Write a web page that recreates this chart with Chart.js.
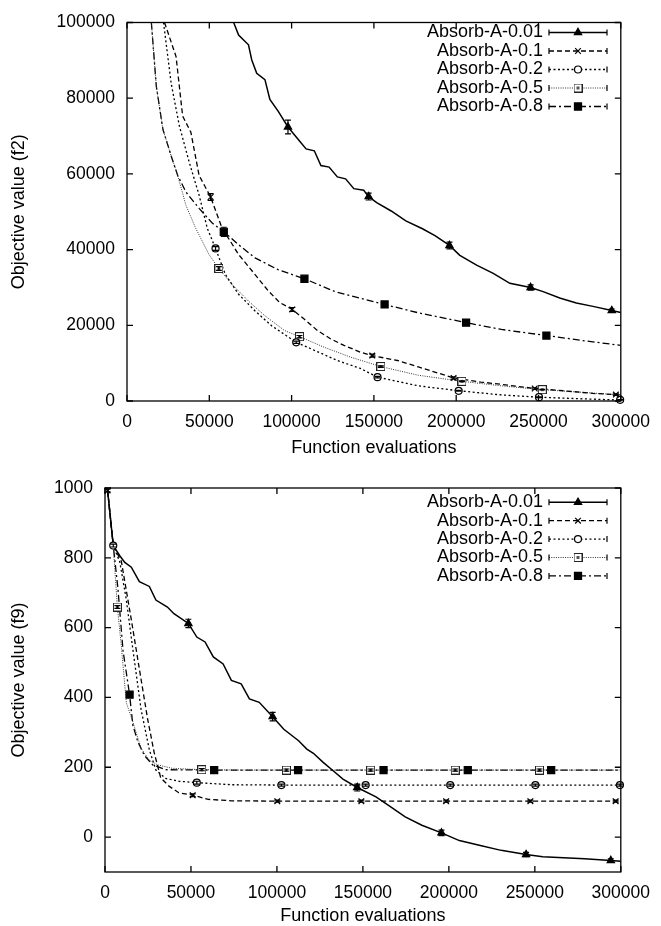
<!DOCTYPE html>
<html><head><meta charset="utf-8">
<script src="https://cdn.jsdelivr.net/npm/chart.js@4"></script>
<style>
html,body{margin:0;padding:0;background:#fff;}
body{width:661px;height:926px;position:relative;overflow:hidden;}
#c1{position:absolute;left:0;top:0;}
#c2{position:absolute;left:0;top:460px;}
</style></head><body>
<canvas id="c1" width="661" height="460"></canvas>
<canvas id="c2" width="661" height="466"></canvas>
<script>
// ---------- labels ----------
const seriesNames = ['Absorb-A-0.01','Absorb-A-0.1','Absorb-A-0.2','Absorb-A-0.5','Absorb-A-0.8'];
const xTitle = 'Function evaluations';
const f2Title = 'Objective value (f2)';
const f9Title = 'Objective value (f9)';
const xTicks = [0,50000,100000,150000,200000,250000,300000];
const f2Ticks = [0,20000,40000,60000,80000,100000];
const f9Ticks = [0,200,400,600,800,1000];

// ---------- f2 curves ----------
const f2_x_001 = [64800,67800,73800,75800,78800,83800,86800,91800,97800,103800,108800,113800,117800,122800,127800,132800,137800,143800,146800,151700,160500,169400,179500,187100,195900,202200,212400,222500,232600,245200,252800,262900,273000,283100,294500,300000];
const f2_y_001 = [100000,96700,94100,90100,86600,84900,79700,76600,72400,69200,66600,66100,62200,61800,59200,58700,56100,55700,54000,52400,50200,47600,45500,43700,41100,38500,35900,33700,31100,30000,28900,27200,25900,25000,23900,23400];
const f2_x_01 = [22800,29800,33800,38800,43800,50800,57800,62800,67800,77800,85800,92800,100400,107800,115800,123800,131800,141800,149000,164300,177000,198400,214900,227500,247700,265400,283100,297000,300000];
const f2_y_01 = [100000,91000,75300,71000,59600,53900,45600,42200,38700,33400,29100,26000,24200,21600,18600,16400,14700,12900,12000,10700,9000,6100,5000,4400,3300,2700,2000,1700,1600];
const f2_x_02 = [22200,26800,31800,37800,43800,48800,53800,59800,67800,77800,87800,102800,113800,127800,141800,152200,177000,201500,227500,250300,275000,300000];
const f2_y_02 = [100000,84000,72700,63100,54400,45600,40300,33400,28200,23800,19900,15500,13400,10700,8600,6300,4000,2700,1600,1000,600,250];
const f2_x_05 = [14800,17800,21800,26800,30800,35800,41800,49800,55800,63800,73800,83800,95800,104800,119800,135800,154200,177000,203500,227500,252300,300000];
const f2_y_05 = [100000,83200,71800,64800,59600,51700,45600,38700,35000,30800,26400,22500,18600,17000,14200,11600,9100,6800,5200,4000,3000,1600];
const f2_x_08 = [14800,17800,21800,26800,30800,35800,43800,51800,58800,67800,77800,91800,107800,126400,156500,177000,206000,227500,254800,278100,300000];
const f2_y_08 = [100000,83200,71800,64800,59600,55200,50900,47000,44700,41300,37800,34700,32300,28900,25500,23300,20700,18900,17300,15900,14700];

// ---------- f2 error-bar points ----------
const f2_mx_001 = [97800,146800,195900,245200,294500];
const f2_my_001 = [72400,54000,41100,30000,23900];
const f2_me_001 = [1800,900,900,700,400];
const f2_mx_01 = [50800,100400,149000,198400,247700,297000];
const f2_my_01 = [53900,24200,12000,6100,3300,1700];
const f2_me_01 = [900,500,400,300,200,200];
const f2_mx_02 = [53800,102800,152200,201500,250300,299600];
const f2_my_02 = [40300,15500,6300,2700,1000,300];
const f2_me_02 = [500,300,200,100,100,100];
const f2_mx_05 = [55800,104800,154200,203500,252300];
const f2_my_05 = [35000,17000,9100,5200,3000];
const f2_me_05 = [500,300,200,100,100];
const f2_mx_08 = [58800,107800,156500,206000,254800];
const f2_my_08 = [44700,32300,25500,20700,17300];
const f2_me_08 = [1200,600,400,300,200];

// ---------- f9 curves ----------
const f9_x_001 = [1500,4800,8600,11500,15300,20000,25800,29600,36300,40100,48500,53400,58200,63000,68700,73500,79200,84000,89700,97500,104000,112600,117400,121200,126900,132700,138400,146700,157600,164900,174600,184300,195700,206100,218300,230400,244900,254600,278900,294200,300000];
const f9_y_001 = [995,835,806,787,773,732,718,679,659,640,612,573,559,516,496,449,439,396,386,345,309,276,252,240,214,190,166,142,115,91,58,34,12,-10,-24,-38,-50,-56,-62,-67,-69];
const f9_x_01 = [1500,4800,9500,15300,20000,24800,28600,32400,37200,42900,51100,60100,73500,100000,300000];
const f9_y_01 = [993,835,790,623,481,338,242,170,146,127,120,108,104,103,103];
const f9_x_02 = [1500,4800,8600,12400,16200,21000,25800,29600,35300,42900,53500,73500,102700,300000];
const f9_y_02 = [993,835,788,680,538,365,250,192,168,160,156,150,149,149];
const f9_x_05 = [1500,4800,7200,9500,12400,16200,21000,25800,30500,39100,56000,80000,300000];
const f9_y_05 = [993,835,659,547,385,330,254,220,207,197,193,192,192];
const f9_x_08 = [1500,4800,7500,10500,14300,16200,19100,22900,27700,35300,63400,300000];
const f9_y_08 = [993,835,713,534,408,321,273,234,207,193,192,192];

// ---------- f9 error-bar points ----------
const f9_mx_001 = [48500,97500,146700,195700,244900,294200];
const f9_my_001 = [612,345,142,12,-50,-67];
const f9_me_001 = [12,12,10,8,6,5];
const f9_mx_01 = [1500,51000,100200,149100,198400,247400,297000];
const f9_my_01 = [993,120,103,103,103,103,103];
const f9_me_01 = [4,4,3,3,3,3,3];
const f9_mx_02 = [4800,53400,102600,151600,200800,250300,299500];
const f9_my_02 = [835,156,149,149,149,149,149];
const f9_me_02 = [4,4,3,3,3,3,3];
const f9_mx_05 = [7200,56300,105500,154500,203700,252700];
const f9_my_05 = [659,193,192,192,192,192];
const f9_me_05 = [4,3,3,3,3,3];
const f9_mx_08 = [14300,63500,112300,162000,211000,259500];
const f9_my_08 = [408,192,192,192,192,192];
const f9_me_08 = [5,3,3,3,3,3];

// ---------- styles ----------
const FONT = '"Liberation Sans", Arial, Helvetica, sans-serif';
Chart.defaults.font.family = FONT;
Chart.defaults.color = '#000';

const boxDot = document.createElement('canvas');
boxDot.width = 9; boxDot.height = 9;
(function(){ const b = boxDot.getContext('2d'); b.fillStyle='#fff'; b.fillRect(0,0,9,9); b.strokeStyle='#222'; b.lineWidth=1; b.strokeRect(0.5,0.5,8,8); b.fillStyle='#555'; b.fillRect(3,3,3,3); })();

const STY = [
  {dash:[],          width:1.5, color:'#000', point:'triangle', fill:'#000', radius:4.2},
  {dash:[5,3],       width:1.3, color:'#000', point:'crossRot', fill:'#000', radius:4},
  {dash:[2,2.5],     width:1.3, color:'#000', point:'circle',   fill:'#fff', radius:3.5},
  {dash:[1,1.3],     width:1.0, color:'#333', point:boxDot,     fill:'#fff', radius:4.5},
  {dash:[7,3,2,3],   width:1.3, color:'#000', point:'rect',     fill:'#000', radius:5}
];

function pts(xs, ys){ return xs.map((x,i)=>({x:x, y:ys[i]})); }

function buildDatasets(lines, marks){
  const ds = [];
  lines.forEach((L,i)=>{
    const s = STY[i];
    ds.push({label:seriesNames[i], data:pts(L[0],L[1]), borderColor:s.color, borderWidth:s.width,
      borderDash:s.dash, pointRadius:0, pointHoverRadius:0, tension:0, fill:false, order:2});
  });
  marks.forEach((M,i)=>{
    const s = STY[i];
    ds.push({label:seriesNames[i]+' points', data:pts(M[0],M[1]), errs:M[2], showLine:false,
      pointStyle:s.point, pointRadius:s.radius, pointHoverRadius:s.radius,
      pointBackgroundColor:s.fill, pointBorderColor:s.color, pointBorderWidth:1.2, clip:false, order:1});
  });
  return ds;
}

const errorBarPlugin = {
  id:'errorBars',
  afterDatasetsDraw(chart){
    const ctx = chart.ctx, ys = chart.scales.y;
    ctx.save();
    ctx.strokeStyle = '#000'; ctx.lineWidth = 1.2; ctx.setLineDash([]);
    chart.data.datasets.forEach((d,di)=>{
      if (!d.errs) return;
      const meta = chart.getDatasetMeta(di);
      d.data.forEach((p,j)=>{
        const e = d.errs[j]; if (!e) return;
        const px = meta.data[j].x;
        const y1 = ys.getPixelForValue(p.y - e), y2 = ys.getPixelForValue(p.y + e);
        ctx.beginPath();
        ctx.moveTo(px,y1); ctx.lineTo(px,y2);
        ctx.moveTo(px-3,y1); ctx.lineTo(px+3,y1);
        ctx.moveTo(px-3,y2); ctx.lineTo(px+3,y2);
        ctx.stroke();
      });
    });
    ctx.restore();
  }
};

const framePlugin = {
  id:'frame',
  afterDraw(chart){
    const ctx = chart.ctx, a = chart.chartArea, xs = chart.scales.x, ys = chart.scales.y;
    ctx.save();
    ctx.strokeStyle = '#000'; ctx.lineWidth = 1.3; ctx.setLineDash([]);
    ctx.strokeRect(a.left, a.top, a.right - a.left, a.bottom - a.top);
    const L = 6;
    ctx.beginPath();
    xs.ticks.forEach(t=>{
      const px = xs.getPixelForValue(t.value);
      ctx.moveTo(px, a.bottom); ctx.lineTo(px, a.bottom - L);
      ctx.moveTo(px, a.top); ctx.lineTo(px, a.top + L);
    });
    ys.ticks.forEach(t=>{
      const py = ys.getPixelForValue(t.value);
      ctx.moveTo(a.left, py); ctx.lineTo(a.left + L, py);
      ctx.moveTo(a.right, py); ctx.lineTo(a.right - L, py);
    });
    ctx.stroke();
    ctx.restore();
  }
};

const legendPlugin = {
  id:'customLegend',
  afterDraw(chart, args, opts){
    const ctx = chart.ctx;
    ctx.save();
    seriesNames.forEach((n,i)=>{
      const y = opts.y0 + i*opts.dy, s = STY[i];
      ctx.font = '18px ' + FONT; ctx.textAlign = 'right'; ctx.textBaseline = 'middle'; ctx.fillStyle = '#000';
      ctx.fillText(n, opts.textRight, y);
      ctx.strokeStyle = s.color; ctx.lineWidth = s.width; ctx.setLineDash(s.dash);
      ctx.beginPath(); ctx.moveTo(opts.x1, y); ctx.lineTo(opts.x2, y); ctx.stroke();
      ctx.setLineDash([]); ctx.lineWidth = 1.2; ctx.strokeStyle = '#000';
      ctx.beginPath();
      ctx.moveTo(opts.x1, y-3); ctx.lineTo(opts.x1, y+3);
      ctx.moveTo(opts.x2, y-3); ctx.lineTo(opts.x2, y+3);
      ctx.stroke();
      ctx.fillStyle = s.fill; ctx.strokeStyle = s.color; ctx.lineWidth = 1.2;
      Chart.helpers.drawPoint(ctx, {pointStyle:s.point, radius:s.radius, rotation:0, borderWidth:1.2}, (opts.x1+opts.x2)/2, y);
    });
    ctx.restore();
  }
};

function makeChart(id, lines, marks, yMin, yMax, yTicks, yTitle, cfg){
  const tickFont = {size:17.5, family:FONT};
  const titleFont = {size:18, family:FONT};
  return new Chart(document.getElementById(id), {
    type:'line',
    data:{datasets:buildDatasets(lines, marks)},
    options:{
      responsive:false, animation:false, devicePixelRatio:1,
      layout:{padding:{top:cfg.padTop, right:cfg.padRight, left:0, bottom:0}},
      plugins:{legend:{display:false}, tooltip:{enabled:false},
        customLegend:{y0:cfg.legY0, dy:cfg.legDy, textRight:543, x1:549, x2:607}},
      scales:{
        x:{type:'linear', min:0, max:300000,
          afterBuildTicks:s=>{ s.ticks = xTicks.map(v=>({value:v})); },
          ticks:{font:tickFont, color:'#000', padding:cfg.xPad, maxRotation:0, autoSkip:false, callback:v=>String(v)},
          grid:{display:false, drawTicks:false}, border:{display:false},
          title:{display:true, text:xTitle, font:titleFont, color:'#000', padding:{top:0, bottom:cfg.xTitlePad}},
          afterFit:s=>{ s.height = cfg.xH; }},
        y:{type:'linear', min:yMin, max:yMax,
          afterBuildTicks:s=>{ s.ticks = yTicks.map(v=>({value:v})); },
          ticks:{font:tickFont, color:'#000', padding:12, callback:v=>String(v)},
          grid:{display:false, drawTicks:false}, border:{display:false},
          title:{display:true, text:yTitle, font:titleFont, color:'#000', padding:{top:8, bottom:0}},
          afterFit:s=>{ s.width = cfg.yW; }}
      }
    },
    plugins:[errorBarPlugin, framePlugin, legendPlugin]
  });
}

makeChart('c1',
  [[f2_x_001,f2_y_001],[f2_x_01,f2_y_01],[f2_x_02,f2_y_02],[f2_x_05,f2_y_05],[f2_x_08,f2_y_08]],
  [[f2_mx_001,f2_my_001,f2_me_001],[f2_mx_01,f2_my_01,f2_me_01],[f2_mx_02,f2_my_02,f2_me_02],[f2_mx_05,f2_my_05,f2_me_05],[f2_mx_08,f2_my_08,f2_me_08]],
  0, 100000, f2Ticks, f2Title,
  {padTop:19, padRight:34, xH:59, yW:127, xPad:11, xTitlePad:1.5, legY0:32.5, legDy:18.5});

makeChart('c2',
  [[f9_x_001,f9_y_001],[f9_x_01,f9_y_01],[f9_x_02,f9_y_02],[f9_x_05,f9_y_05],[f9_x_08,f9_y_08]],
  [[f9_mx_001,f9_my_001,f9_me_001],[f9_mx_01,f9_my_01,f9_me_01],[f9_mx_02,f9_my_02,f9_me_02],[f9_mx_05,f9_my_05,f9_me_05],[f9_mx_08,f9_my_08,f9_me_08]],
  -100, 1000, f9Ticks, f9Title,
  {padTop:28, padRight:33, xH:54, yW:105, xPad:11, xTitlePad:-1, legY0:42.3, legDy:18.4});
</script>
</body></html>
